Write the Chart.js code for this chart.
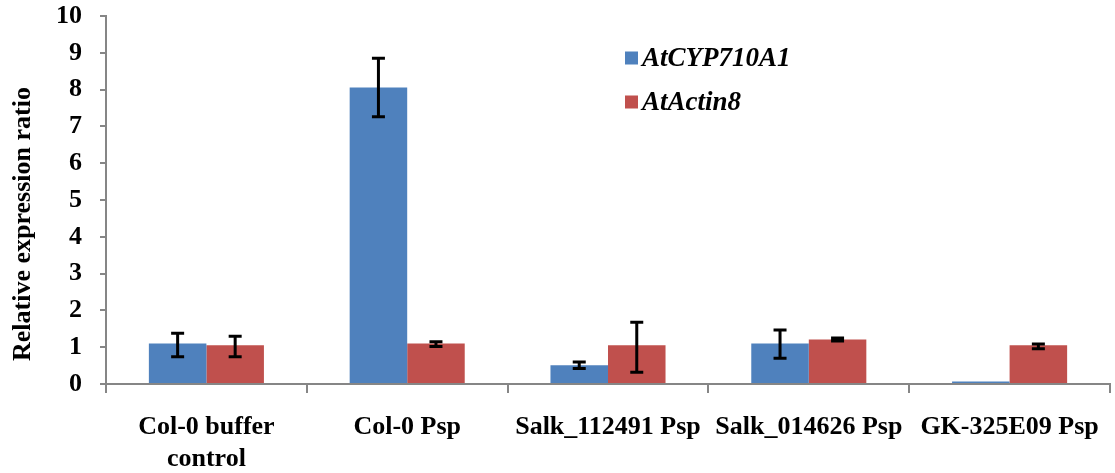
<!DOCTYPE html>
<html><head><meta charset="utf-8">
<script src="https://cdn.jsdelivr.net/npm/chart.js@4/dist/chart.umd.min.js"></script>
<style>html,body{margin:0;padding:0;background:#fff;}#wrap{width:1115px;height:473px;}</style>
</head><body><div id="wrap"><canvas id="c" width="1115" height="473"></canvas></div>
<script>
const categories = [["Col-0 buffer", "control"], "Col-0 Psp", "Salk_112491 Psp", "Salk_014626 Psp", "GK-325E09 Psp"];
const seriesNames = ["AtCYP710A1", "AtActin8"];
const cypValues = [1.10, 8.06, 0.51, 1.10, 0.07];
const cypErrLow = [0.74, 7.26, 0.42, 0.70, null];
const cypErrHigh = [1.38, 8.85, 0.60, 1.47, null];
const actValues = [1.05, 1.10, 1.05, 1.21, 1.05];
const actErrLow = [0.74, 1.02, 0.32, 1.17, 0.96];
const actErrHigh = [1.30, 1.15, 1.68, 1.25, 1.09];
const yMin = 0, yMax = 10, yStep = 1;
const yTitle = "Relative expression ratio";

const FONT = "'Liberation Serif', 'Times New Roman', serif";
const AXIS = '#868686';
const colors = ['#4F81BD', '#C0504D'];
const errs = [[cypErrLow, cypErrHigh], [actErrLow, actErrHigh]];

const errorBars = {
  id: 'errorBars',
  afterDatasetsDraw(chart) {
    const ctx = chart.ctx, y = chart.scales.y;
    ctx.save();
    ctx.strokeStyle = '#000';
    ctx.lineWidth = 3;
    chart.data.datasets.forEach((ds, i) => {
      const meta = chart.getDatasetMeta(i);
      const [lo, hi] = errs[i];
      meta.data.forEach((el, j) => {
        if (lo[j] == null || hi[j] == null) return;
        const x = el.x, y1 = y.getPixelForValue(lo[j]), y2 = y.getPixelForValue(hi[j]);
        ctx.beginPath();
        ctx.moveTo(x, y1); ctx.lineTo(x, y2);
        ctx.moveTo(x - 6.5, y1); ctx.lineTo(x + 6.5, y1);
        ctx.moveTo(x - 6.5, y2); ctx.lineTo(x + 6.5, y2);
        ctx.stroke();
      });
    });
    ctx.restore();
  }
};

const decor = {
  id: 'decor',
  afterDraw(chart) {
    const ctx = chart.ctx;
    ctx.save();
    ctx.fillStyle = '#000';
    ctx.font = "bold 26px " + FONT;
    ctx.textAlign = 'center';
    ctx.textBaseline = 'middle';
    ctx.translate(23, 224);
    ctx.rotate(-Math.PI / 2);
    ctx.fillText(yTitle, 0, 0);
    ctx.restore();
    ctx.save();
    ctx.font = "italic bold 27px " + FONT;
    ctx.textBaseline = 'middle';
    ctx.textAlign = 'left';
    chart.data.datasets.forEach((ds, i) => {
      const cy = 58 + i * 44;
      ctx.fillStyle = colors[i];
      ctx.fillRect(625, cy - 6.5, 13, 13);
      ctx.fillStyle = '#000';
      ctx.fillText(ds.label, 642, cy + 1);
    });
    ctx.restore();
  }
};

new Chart(document.getElementById('c'), {
  type: 'bar',
  data: {
    labels: categories,
    datasets: [
      { label: seriesNames[0], data: cypValues, backgroundColor: colors[0] },
      { label: seriesNames[1], data: actValues, backgroundColor: colors[1] }
    ]
  },
  options: {
    responsive: false,
    devicePixelRatio: 1,
    animation: false,
    layout: { padding: { top: 16, right: 5, left: 0, bottom: 0 } },
    plugins: { legend: { display: false }, tooltip: { enabled: false } },
    datasets: { bar: { categoryPercentage: 0.573, barPercentage: 1.0 } },
    scales: {
      x: {
        grid: { display: true, drawOnChartArea: false, drawTicks: true, tickLength: 9, color: AXIS, lineWidth: 2, offset: true },
        border: { display: true, color: AXIS, width: 2 },
        ticks: { color: '#000', font: { family: FONT, size: 26, weight: 'bold', lineHeight: 1.2 }, padding: 19, maxRotation: 0, autoSkip: false },
        afterFit(s) { s.height = 89; s.paddingLeft = 0; s.paddingRight = 0; }
      },
      y: {
        min: yMin, max: yMax,
        grid: { display: true, drawOnChartArea: false, drawTicks: true, tickLength: 6, color: AXIS, lineWidth: 2 },
        border: { display: true, color: AXIS, width: 2 },
        ticks: { stepSize: yStep, color: '#000', font: { family: FONT, size: 26, weight: 'bold' }, padding: 18 },
        afterFit(s) { s.width = 106; s.paddingTop = 0; s.paddingBottom = 0; }
      }
    }
  },
  plugins: [errorBars, decor]
});
</script></body></html>
